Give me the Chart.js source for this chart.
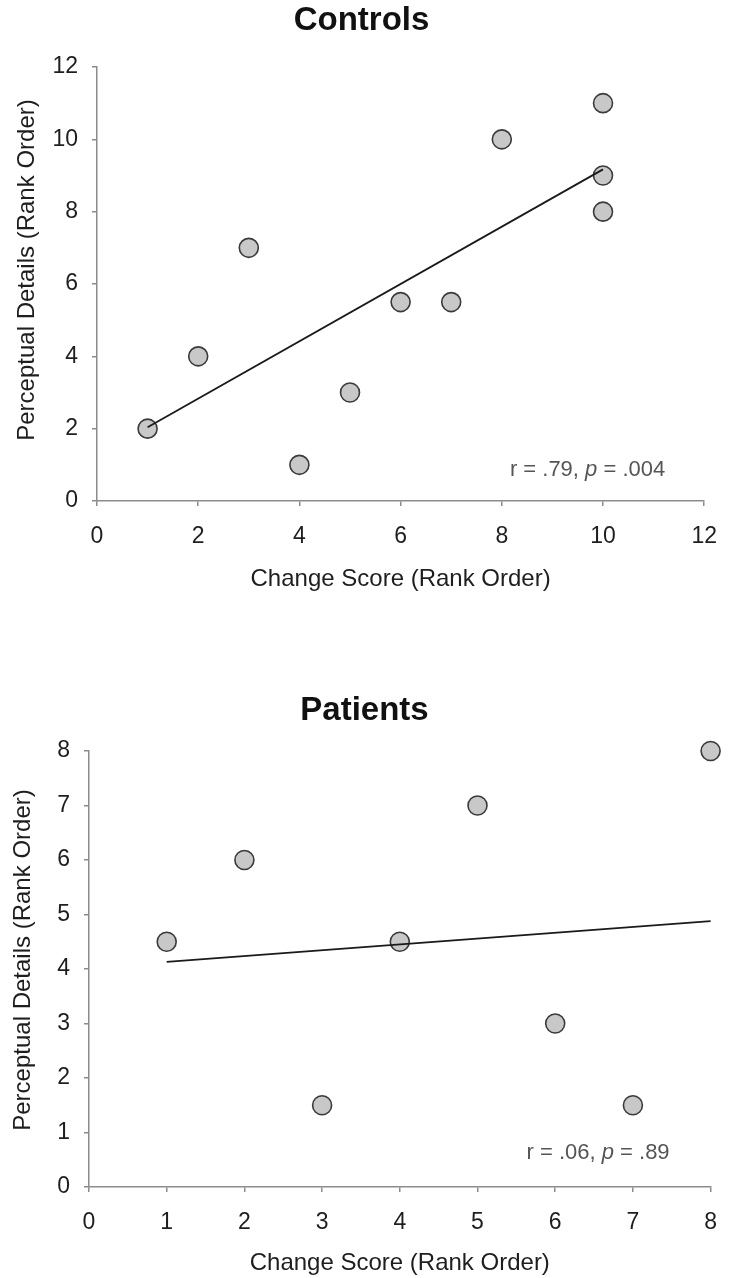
<!DOCTYPE html>
<html>
<head>
<meta charset="utf-8">
<title>Controls / Patients</title>
<script src="https://cdn.jsdelivr.net/npm/chart.js@4.4.1/dist/chart.umd.min.js"></script>
<style>
  html, body { margin: 0; padding: 0; background: #fff; }
  .wrap { position: absolute; left: 0; width: 734px; }
  #top-wrap { top: 0; height: 598px; }
  #bottom-wrap { top: 600px; height: 678px; }
</style>
</head>
<body>
<div class="wrap" id="top-wrap"><canvas id="controls-chart"></canvas></div>
<div class="wrap" id="bottom-wrap"><canvas id="patients-chart"></canvas></div>
<script>
// Controls panel
const controlsX = [1, 2, 3, 4, 5, 6, 7, 8, 10, 10, 10];
const controlsY = [2, 4, 7, 1, 3, 5.5, 5.5, 10, 11, 9, 8];
const controlsFitX = [1, 10];
const controlsFitY = [2.04, 9.17];
const controlsTicks = [0, 2, 4, 6, 8, 10, 12];
const controlsStats = ['r = .79, ', 'p', ' = .004'];

// Patients panel
const patientsX = [1, 2, 3, 4, 5, 6, 7, 8];
const patientsY = [4.5, 6, 1.5, 4.5, 7, 3, 1.5, 8];
const patientsFitX = [1, 8];
const patientsFitY = [4.13, 4.88];
const patientsTicks = [0, 1, 2, 3, 4, 5, 6, 7, 8];
const patientsStats = ['r = .06, ', 'p', ' = .89'];

const xTitle = 'Change Score (Rank Order)';
const yTitle = 'Perceptual Details (Rank Order)';

const FONT = '"Liberation Sans", Arial, Helvetica, sans-serif';
const AXIS_GRAY = '#8c8c8c';
const TEXT = '#1e1e1e';

function toPoints(xs, ys) {
  return xs.map((x, i) => ({ x: x, y: ys[i] }));
}

// "r = ..., p = ..." note in the lower right of the plot (p in italics)
const statLabel = {
  id: 'statLabel',
  afterDatasetsDraw(chart, args, opts) {
    const { ctx, chartArea } = chart;
    const plain = '22px ' + FONT;
    const fonts = [plain, 'italic ' + plain, plain];
    ctx.save();
    ctx.fillStyle = '#555';
    ctx.textBaseline = 'middle';
    const widths = opts.parts.map((t, i) => {
      ctx.font = fonts[i];
      return ctx.measureText(t).width;
    });
    let x = chartArea.right - opts.right - widths.reduce((a, b) => a + b, 0);
    const y = chartArea.bottom - opts.bottom;
    opts.parts.forEach((t, i) => {
      ctx.font = fonts[i];
      ctx.fillText(t, x, y);
      x += widths[i];
    });
    ctx.restore();
  }
};

// rotated y title, sits a little above the middle of the axis like the original
const yAxisTitle = {
  id: 'yAxisTitle',
  afterDraw(chart, args, opts) {
    const { ctx, chartArea } = chart;
    ctx.save();
    ctx.translate(opts.x, (chartArea.top + chartArea.bottom) / 2 - opts.shift);
    ctx.rotate(-Math.PI / 2);
    ctx.font = '24px ' + FONT;
    ctx.fillStyle = TEXT;
    ctx.textAlign = 'center';
    ctx.textBaseline = 'middle';
    ctx.fillText(opts.text, 0, 0);
    ctx.restore();
  }
};

function axis(ticks, fitSize, isX, titlePad) {
  return {
    type: 'linear',
    min: ticks[0],
    max: ticks[ticks.length - 1],
    afterBuildTicks: (scale) => {
      scale.ticks = ticks.map(v => ({ value: v }));
    },
    afterFit: (scale) => {
      if (isX) scale.height = fitSize;
      else scale.width = fitSize;
    },
    border: { display: true, color: AXIS_GRAY, width: 1.5 },
    grid: {
      display: true,
      drawOnChartArea: false,
      drawTicks: true,
      tickLength: 5,
      color: AXIS_GRAY,
      lineWidth: 1.5
    },
    ticks: {
      color: TEXT,
      font: { family: FONT, size: 23 },
      padding: isX ? 17 : 14,
      maxRotation: 0,
      autoSkip: false
    },
    title: {
      display: isX,
      text: xTitle,
      color: TEXT,
      font: { family: FONT, size: 24 },
      padding: titlePad
    }
  };
}

function makeChart(id, setup) {
  return new Chart(document.getElementById(id), {
    type: 'scatter',
    data: {
      datasets: [
        {
          type: 'line',
          data: toPoints(setup.fitX, setup.fitY),
          borderColor: '#1a1a1a',
          borderWidth: 1.8,
          pointRadius: 0,
          fill: false,
          order: 0,
          clip: false
        },
        {
          data: toPoints(setup.xs, setup.ys),
          pointRadius: 9.5,
          pointBackgroundColor: '#c8c8c8',
          pointBorderColor: '#3a3a3a',
          pointBorderWidth: 1.6,
          order: 1,
          clip: false
        }
      ]
    },
    options: {
      responsive: true,
      maintainAspectRatio: false,
      animation: false,
      layout: { padding: setup.padding },
      plugins: {
        legend: { display: false },
        tooltip: { enabled: false },
        title: {
          display: true,
          text: setup.title,
          color: '#111',
          font: { family: FONT, size: 33, weight: 'bold' },
          padding: setup.titlePad
        },
        statLabel: { parts: setup.stats, right: setup.statRight, bottom: setup.statBottom },
        yAxisTitle: { text: yTitle, x: setup.yTitleX, shift: setup.yTitleShift }
      },
      scales: {
        x: axis(setup.ticks, setup.xHeight, true, { top: 4, bottom: setup.xTitleBottom }),
        y: axis(setup.ticks, setup.yWidth, false, { top: 4, bottom: 4 })
      }
    },
    plugins: [statLabel, yAxisTitle]
  });
}

makeChart('controls-chart', {
  title: 'Controls',
  xs: controlsX, ys: controlsY,
  fitX: controlsFitX, fitY: controlsFitY,
  ticks: controlsTicks,
  stats: controlsStats,
  padding: { left: 9, right: 20, top: 0, bottom: 0 },
  titlePad: { top: 1, bottom: 26.4 },
  xHeight: 97, yWidth: 88, xTitleBottom: 4,
  statRight: 39, statBottom: 31,
  yTitleX: 27, yTitleShift: 14
});

makeChart('patients-chart', {
  title: 'Patients',
  xs: patientsX, ys: patientsY,
  fitX: patientsFitX, fitY: patientsFitY,
  ticks: patientsTicks,
  stats: patientsStats,
  padding: { left: 5, right: 10, top: 0, bottom: 0 },
  titlePad: { top: 91, bottom: 20.4 },
  xHeight: 91, yWidth: 84, xTitleBottom: 0,
  statRight: 41, statBottom: 34,
  yTitleX: 23, yTitleShift: 9
});
</script>
</body>
</html>
